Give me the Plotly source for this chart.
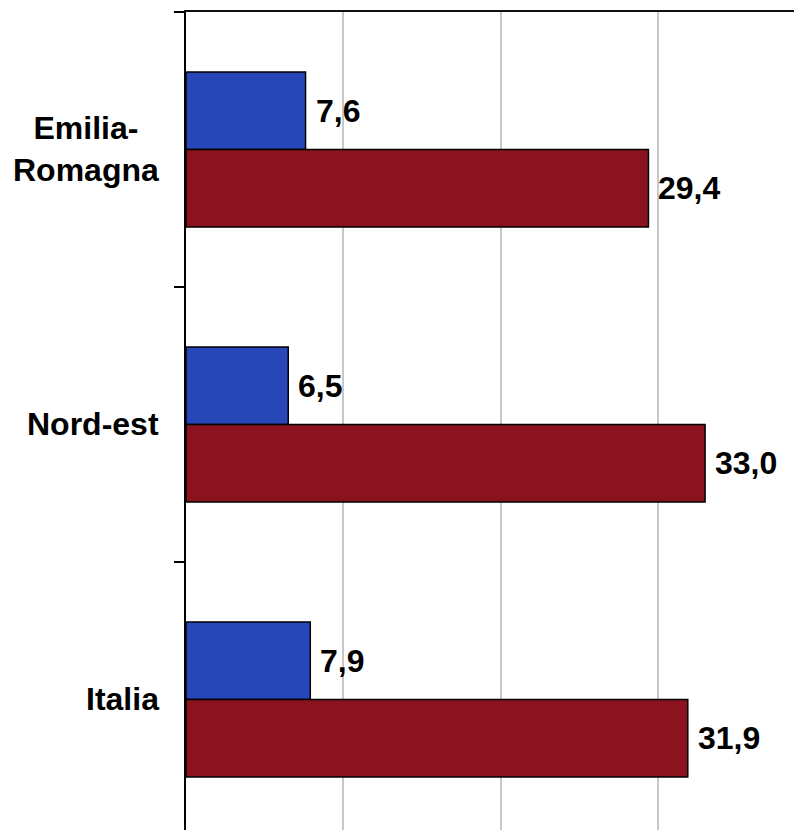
import plotly.graph_objects as go

categories = ["Emilia-Romagna", "Nord-est", "Italia"]
category_labels = ["Emilia-<br>Romagna", "Nord-est", "Italia"]
series_blue = [7.6, 6.5, 7.9]
series_red = [29.4, 33.0, 31.9]

BLUE = "#2747b8"
RED = "#8a131f"
FONT = "Liberation Sans, Arial, sans-serif"

fig = go.Figure()
fig.add_trace(go.Bar(
    y=categories, x=series_blue, orientation="h", name="blue",
    marker=dict(color=BLUE, line=dict(color="#000000", width=1.5)),
))
fig.add_trace(go.Bar(
    y=categories, x=series_red, orientation="h", name="red",
    marker=dict(color=RED, line=dict(color="#000000", width=1.5)),
))

off = 0.141
annotations = []
for i, (b, r) in enumerate(zip(series_blue, series_red)):
    for val, dy in ((b, -off), (r, off)):
        annotations.append(dict(
            x=val, y=i + dy, xref="x", yref="y",
            text="<b>" + f"{val:.1f}".replace(".", ",") + "</b>",
            showarrow=False, xanchor="left", yanchor="middle", xshift=8,
            font=dict(family=FONT, size=32, color="#000000"),
        ))
for i, lab in enumerate(category_labels):
    annotations.append(dict(
        x=0, y=i, xref="paper", yref="y",
        text="<b>" + lab + "</b>", showarrow=False, align="center",
        xanchor="right", yanchor="middle", xshift=-25,
        font=dict(family=FONT, size=32, color="#000000"),
    ))

fig.update_layout(
    width=802, height=830,
    margin=dict(l=178, r=0, t=4, b=0),
    paper_bgcolor="#ffffff", plot_bgcolor="#ffffff",
    barmode="group", bargap=0.436, bargroupgap=0,
    showlegend=False,
    annotations=annotations,
    xaxis=dict(
        side="top", range=[0, 39.67], dtick=10, showticklabels=False,
        showgrid=True, gridcolor="#c8c8c8", gridwidth=2, zeroline=False,
        showline=True, linecolor="#111111", linewidth=2, ticks="",
    ),
    yaxis=dict(
        type="category", categoryorder="array", categoryarray=categories,
        range=[2.504, -0.5], showticklabels=False, showgrid=False,
        showline=True, linecolor="#000000", linewidth=2,
        ticks="outside", tickson="boundaries", ticklen=10, tickwidth=2,
        tickcolor="#000000",
    ),
)

fig.write_html("out.html")
